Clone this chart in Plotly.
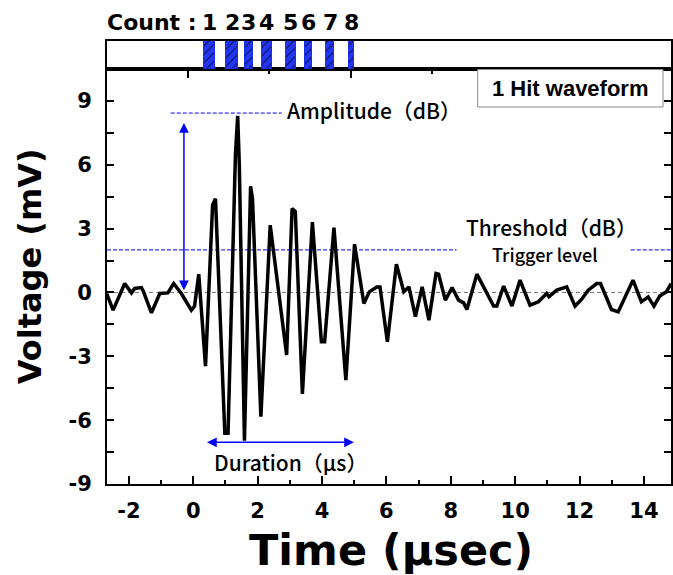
import plotly.graph_objects as go

# ---------------- data ----------------
time_us = [-2.69, -2.49, -2.13, -1.92, -1.82, -1.61, -1.55, -1.30, -1.04, -0.79,
           -0.61, -0.37, -0.06, 0.04, 0.17, 0.38, 0.60, 0.69, 0.98, 1.08,
           1.31, 1.38, 1.43, 1.59, 1.78, 1.84, 2.10, 2.39, 2.90, 3.07,
           3.17, 3.39, 3.70, 3.98, 4.08, 4.37, 4.74, 5.01, 5.30, 5.47,
           5.70, 5.80, 6.03, 6.31, 6.54, 6.70, 6.90, 7.11, 7.32, 7.54,
           7.62, 7.83, 8.04, 8.24, 8.40, 8.50, 8.81, 8.97, 9.33, 9.43,
           9.64, 9.90, 10.15, 10.46, 10.72, 10.98, 11.05, 11.29, 11.60, 11.86,
           12.06, 12.27, 12.53, 12.65, 12.99, 13.20, 13.66, 13.92, 14.13, 14.31,
           14.49, 14.70, 14.84]
voltage_mv = [-0.05, -0.83, 0.42, -0.02, 0.19, 0.23, 0.05, -0.96, -0.05, -0.02,
              0.42, -0.05, -0.83, -0.64, 0.86, -3.46, 4.10, 4.40, -6.62, -6.62,
              6.50, 8.30, 6.00, -6.97, 4.99, 4.40, -5.84, 3.16, -2.94, 3.94,
              3.80, -4.77, 3.31, -2.32, -2.32, 3.05, -4.12, 2.27, -0.52, 0.03,
              0.26, 0.26, -2.32, 1.33, 0.03, 0.26, -1.14, 0.26, -1.30, 0.89,
              0.86, -0.36, 0.23, -0.36, -0.49, -0.80, 0.86, 0.42, -0.64, -0.64,
              0.30, -0.64, 0.58, -0.60, -0.44, -0.05, -0.20, 0.11, 0.26, -0.64,
              -0.33, 0.11, 0.42, 0.42, -0.80, -0.91, 0.58, -0.44, -0.21, -0.64,
              -0.17, 0.03, 0.42]

count_labels = ["1", "2", "3", "4", "5", "6", "7", "8"]
count_start = [0.33, 1.02, 1.60, 2.14, 2.88, 3.47, 4.12, 4.84]
count_end = [0.69, 1.39, 1.86, 2.43, 3.19, 3.68, 4.38, 4.98]

x_tick_vals = [-2, 0, 2, 4, 6, 8, 10, 12, 14]
x_tick_text = ["-2", "0", "2", "4", "6", "8", "10", "12", "14"]
x_minor_vals = [-1, 1, 3, 5, 7, 9, 11, 13]
y_tick_vals = [-9, -6, -3, 0, 3, 6, 9]
y_tick_text = ["-9", "-6", "-3", "0", "3", "6", "9"]
y_minor_vals = [-7.5, -4.5, -1.5, 1.5, 4.5, 7.5]
top_major_vals = [-0.17, 4.90]
top_minor_vals = [2.34, 7.41]

threshold_mv = 2.0
threshold_gap = [8.18, 13.59]
amplitude_mv = 8.43
amplitude_line_x = [-0.70, 2.75]
amplitude_arrow_x = -0.29
amplitude_arrow_y = [0.03, 7.96]
duration_arrow_y = -7.04
duration_arrow_x = [0.38, 4.99]

x_range = [-2.68, 14.84]
y_range = [-9, 10.5]

# ---------------- layout geometry ----------------
W, H = 673, 575
L, R, T, B = 107, 673, 41, 484
count_panel_bottom = 69
main_top = (B - count_panel_bottom) / (B - T)


def px(x):
    return (x - L) / (R - L)


def py(y):
    return (B - y) / (B - T)


def xfrac(v):
    return (v - x_range[0]) / (x_range[1] - x_range[0])


BLUE = "#0000ff"
TICKFONT = dict(family="DejaVu Sans", size=21, color="black", weight="bold")
JPFONT = "Noto Sans CJK JP"

fig = go.Figure()

# waveform
fig.add_trace(go.Scatter(x=time_us, y=voltage_mv, mode="lines",
                         line=dict(color="black", width=3.5),
                         xaxis="x", yaxis="y", showlegend=False,
                         hoverinfo="skip"))

# count bars
centers = [(a + b) / 2 for a, b in zip(count_start, count_end)]
widths = [b - a for a, b in zip(count_start, count_end)]
fig.add_trace(go.Bar(x=centers, y=[1] * len(centers), width=widths,
                     xaxis="x2", yaxis="y2", showlegend=False,
                     marker=dict(color="#2236f5",
                                 line=dict(color="#1a2ee8", width=1),
                                 pattern=dict(shape="/", fgcolor="#141460",
                                              bgcolor="#2236f5", size=6,
                                              solidity=0.2,
                                              fillmode="replace"))))

# invisible trace for top tick overlay axis
fig.add_trace(go.Scatter(x=[x_range[0]], y=[0], xaxis="x3", yaxis="y",
                         mode="markers", marker=dict(opacity=0),
                         showlegend=False, hoverinfo="skip"))

axis_common = dict(showgrid=False, zeroline=False, linecolor="black",
                   linewidth=2)

fig.update_layout(
    width=W, height=H,
    margin=dict(l=L, r=W - R, t=T, b=H - B, pad=0),
    paper_bgcolor="white", plot_bgcolor="white",
    showlegend=False, bargap=0,
    xaxis=dict(domain=[0, 1], range=x_range, anchor="y",
               tickmode="array", tickvals=x_tick_vals, ticktext=x_tick_text,
               ticks="inside", ticklen=8, tickwidth=1.5, tickcolor="black",
               mirror=True, tickfont=TICKFONT, ticklabelstandoff=7,
               minor=dict(tickmode="array", tickvals=x_minor_vals,
                          ticks="inside", ticklen=4, tickwidth=1.5,
                          tickcolor="black"),
               **axis_common),
    yaxis=dict(domain=[0, main_top], range=y_range, anchor="x",
               tickmode="array", tickvals=y_tick_vals, ticktext=y_tick_text,
               ticks="inside", ticklen=7, tickwidth=1.5, tickcolor="black",
               mirror="allticks", tickfont=TICKFONT, ticklabelstandoff=9,
               minor=dict(tickmode="array", tickvals=y_minor_vals,
                          ticks="inside", ticklen=5, tickwidth=1.5,
                          tickcolor="black"),
               **axis_common),
    xaxis2=dict(domain=[0, 1], range=x_range, anchor="y2",
                showticklabels=False, ticks="", mirror=True, **axis_common),
    yaxis2=dict(domain=[main_top, 1], range=[0, 1], anchor="x2",
                showticklabels=False, ticks="", mirror=True, **axis_common),
    xaxis3=dict(overlaying="x", anchor="y", side="top", range=x_range,
                showline=False, showgrid=False, zeroline=False,
                showticklabels=False, tickmode="array",
                tickvals=top_major_vals, ticks="inside", ticklen=9,
                tickwidth=1.5, tickcolor="black",
                minor=dict(tickmode="array", tickvals=top_minor_vals,
                           ticks="inside", ticklen=5, tickwidth=1.5,
                           tickcolor="black")),
)

DASH = dict(color=BLUE, width=1, dash="4px,2px")
shapes = [
    # zero reference line
    dict(type="line", xref="x domain", yref="y", x0=0, x1=1, y0=0, y1=0,
         layer="below", line=dict(color="#777777", width=1, dash="4px,3px")),
    # threshold line (gap where its label sits)
    dict(type="line", xref="x domain", yref="y", x0=0,
         x1=xfrac(threshold_gap[0]), y0=threshold_mv, y1=threshold_mv,
         layer="below", line=DASH),
    dict(type="line", xref="x domain", yref="y", x0=xfrac(threshold_gap[1]),
         x1=1, y0=threshold_mv, y1=threshold_mv, layer="below", line=DASH),
    # amplitude level line
    dict(type="line", xref="x", yref="y", x0=amplitude_line_x[0],
         x1=amplitude_line_x[1], y0=amplitude_mv, y1=amplitude_mv,
         layer="below", line=DASH),
    # "1 Hit waveform" box
    dict(type="rect", xref="paper", yref="paper", x0=px(479), x1=px(665),
         y0=py(107), y1=py(69.5), fillcolor="white", layer="above",
         line=dict(color="#8a8a8a", width=1)),
]
fig.update_layout(shapes=shapes)

ann = []
for (x0, y0, x1, y1) in [
        (amplitude_arrow_x, amplitude_arrow_y[0],
         amplitude_arrow_x, amplitude_arrow_y[1]),
        (duration_arrow_x[0], duration_arrow_y,
         duration_arrow_x[1], duration_arrow_y)]:
    ann.append(dict(xref="x", yref="y", axref="x", ayref="y",
                    x=x1, y=y1, ax=x0, ay=y0,
                    showarrow=True, arrowhead=2, startarrowhead=2,
                    arrowside="end+start", arrowsize=1.3,
                    startarrowsize=1.3, arrowwidth=1.5, arrowcolor=BLUE,
                    text="", standoff=0, startstandoff=0))


def text_ann(txt, x, y, size, family, weight="normal", angle=0,
             xref="paper"):
    return dict(xref=xref, yref="paper", x=x, y=y, text=txt,
                showarrow=False, xanchor="center", yanchor="middle",
                textangle=angle,
                font=dict(family=family, size=size, color="black",
                          weight=weight))


ann.append(text_ann("Amplitude（dB）", px(375), py(110), 21, JPFONT, 500))
ann.append(text_ann("Threshold（dB）", px(553), py(227), 21, JPFONT, 500))
ann.append(text_ann("Trigger level", px(547), py(254), 18, JPFONT, 500))
ann.append(text_ann("Duration（µs）", px(291), py(462), 21, JPFONT, 500))
ann.append(text_ann("1 Hit waveform", px(572), py(88.5), 22,
                    "Liberation Sans", "bold"))
ann.append(text_ann("Count :", px(152), py(23), 22, "DejaVu Sans", "bold"))
for lab, c in zip(count_labels, centers):
    ann.append(text_ann(lab, c, py(23), 22, "DejaVu Sans", "bold", xref="x"))
ann.append(text_ann("Voltage (mV)", px(30), py(266), 32, "DejaVu Sans",
                    "bold", angle=-90))
ann.append(text_ann("Time (µsec)", px(392), py(550), 43, "DejaVu Sans",
                    "bold"))
fig.update_layout(annotations=ann)

fig.write_html("out.html")
